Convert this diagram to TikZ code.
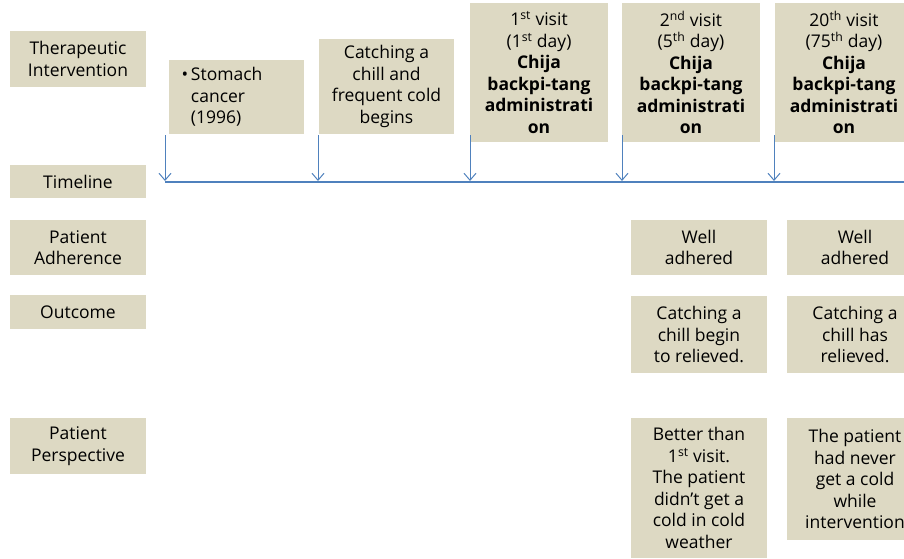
\documentclass[tikz,border=0pt]{standalone}
\usepackage{fontspec}
\setmainfont{Open Sans}
\usetikzlibrary{arrows.meta}
\definecolor{BoxTan}{RGB}{221,217,195}
\definecolor{LineBlue}{RGB}{79,129,189}
\newcommand{\sups}[1]{\textsuperscript{#1}}

\begin{document}
\begin{tikzpicture}[x=1pt,y=-1pt,
    box/.style={fill=BoxTan,align=center,inner sep=0pt,
      font=\fontsize{17.5}{21.5}\selectfont},
    rowlabel/.style={box,minimum width=136pt},
    event/.style={box,minimum width=135pt},
    visit/.style={box,minimum width=138pt,minimum height=139pt},
    result/.style={box,minimum width=136pt},
    tick/.style={draw=LineBlue,line width=1pt,
      -{Straight Barb[length=7pt,width=12pt]}},
  ]
  \useasboundingbox (0,0) rectangle (904,558);

  % row labels
  \node[rowlabel,minimum height=56pt] (therapy) at (78,59) {Therapeutic\\Intervention};
  \node[rowlabel,minimum height=33pt] (timeline) at (78,181.5) {Timeline};
  \node[rowlabel,minimum height=55pt] (adherence) at (78,247.5) {Patient\\Adherence};
  \node[rowlabel,minimum height=34pt] (outcome) at (78,312) {Outcome};
  \node[rowlabel,minimum height=56pt] (perspective) at (78,446) {Patient\\Perspective};

  % events on top
  \node[event,minimum height=74pt,text width=110pt,inner xsep=12.5pt,align=left]
    (cancer) at (236.5,97) {\textbullet\,Stomach\\\phantom{\textbullet\,}cancer\\\phantom{\textbullet\,}(1996)};
  \node[event,minimum height=95pt] (chill) at (386.5,86.5)
    {Catching a\\chill and\\frequent cold\\begins};
  \node[visit] (visit1) at (539,72.5)
    {1\sups{st} visit\\(1\sups{st} day)\\\textbf{Chija}\\\textbf{backpi-tang}\\\textbf{administrati}\\\textbf{on}};
  \node[visit] (visit2) at (691,72.5)
    {2\sups{nd} visit\\(5\sups{th} day)\\\textbf{Chija}\\\textbf{backpi-tang}\\\textbf{administrati}\\\textbf{on}};
  \node[visit] (visit20) at (844,72.5)
    {20\sups{th} visit\\(75\sups{th} day)\\\textbf{Chija}\\\textbf{backpi-tang}\\\textbf{administrati}\\\textbf{on}};

  % timeline with ticks
  \coordinate (tlstart) at (165,182);
  \coordinate (tlend) at (904,182);
  \draw[LineBlue,line width=1.8pt] (tlstart) -- (tlend);
  \foreach \i/\x in {1/165,2/318,3/470,4/622,5/774}{
    \coordinate (top\i) at (\x,135);
    \coordinate (tl\i) at (\x,181);
    \draw[tick] (top\i) -- (tl\i);
  }

  % results after visits
  \node[result,minimum height=55pt] (adh2) at (699,247.5) {Well\\adhered};
  \node[result,minimum height=55pt] (adh20) at (855,247.5) {Well\\adhered};
  \node[result,minimum height=77pt] (out2) at (699,334.5) {Catching a\\chill begin\\to relieved.};
  \node[result,minimum height=77pt] (out20) at (855,334.5) {Catching a\\chill has\\relieved.};
  \node[result,minimum height=140pt] (per2) at (699,488)
    {Better than\\1\sups{st} visit.\\The patient\\didn’t get a\\cold in cold\\weather};
  \node[result,minimum height=122pt] (per20) at (855,479)
    {The patient\\had never\\get a cold\\while\\intervention};
\end{tikzpicture}
\end{document}
